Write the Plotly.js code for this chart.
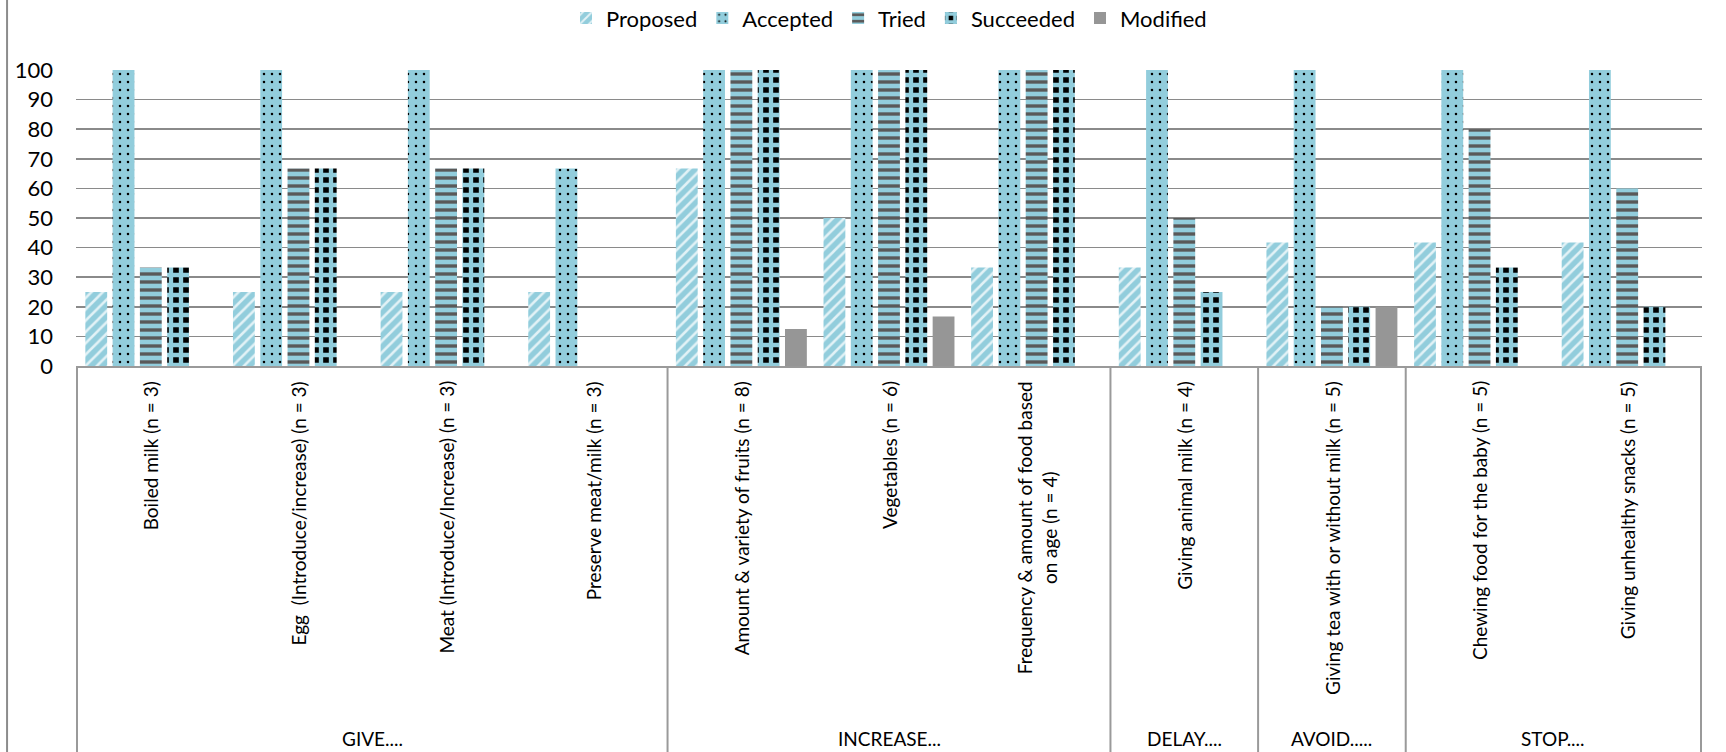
<!DOCTYPE html>
<html>
<head>
<meta charset="utf-8">
<script src="https://cdn.plot.ly/plotly-3.0.1.min.js"></script>
<style>html,body{margin:0;padding:0;background:#fff;}#chart{width:1726px;height:752px;}</style>
</head>
<body>
<div id="chart"></div>
<script>
const categories = [
  "Boiled milk (n = 3)",
  "Egg\u00a0 (Introduce/increase) (n = 3)",
  "Meat (Introduce/Increase) (n = 3)",
  "Preserve meat/milk (n = 3)",
  "Amount & variety of fruits (n = 8)",
  "Vegetables (n = 6)",
  "Frequency & amount of food based<br>on age (n = 4)",
  "Giving animal milk (n = 4)",
  "Giving tea with or without milk (n = 5)",
  "Chewing food for the baby (n = 5)",
  "Giving unhealthy snacks (n = 5)"
];
const groups = ["GIVE....", "INCREASE...", "DELAY....", "AVOID.....", "STOP...."];
const groupSizes = [4, 3, 1, 1, 2];
const seriesNames = ["Proposed", "Accepted", "Tried", "Succeeded", "Modified"];
const proposed  = [25, 25, 25, 25, 66.7, 50, 33.3, 33.3, 41.7, 41.7, 41.7];
const accepted  = [100, 100, 100, 66.7, 100, 100, 100, 100, 100, 100, 100];
const tried     = [33.3, 66.7, 66.7, 0, 100, 100, 100, 50, 20, 80, 60];
const succeeded = [33.3, 66.7, 66.7, 0, 100, 100, 100, 25, 20, 33.3, 20];
const modified  = [0, 0, 0, 0, 12.5, 16.7, 0, 0, 20, 0, 0];
const yTicks = [0, 10, 20, 30, 40, 50, 60, 70, 80, 90, 100];

const BLUE = "#92CDDC";
const FONT = "Lato, 'Open Sans', sans-serif";

const styles = [
  {color: BLUE, pattern: {shape: "/", fgcolor: "#E2F2F6", bgcolor: BLUE, size: 8, solidity: 0.32, fillmode: "replace"}},
  {color: BLUE, pattern: {shape: ".", fgcolor: "#000000", bgcolor: BLUE, size: 8, solidity: 0.08, fillmode: "replace"}},
  {color: BLUE, pattern: {shape: "-", fgcolor: "#595959", bgcolor: BLUE, size: 8, solidity: 0.42, fillmode: "replace"}},
  {color: "#000000", pattern: {shape: "+", fgcolor: BLUE, bgcolor: "#000000", size: 10, solidity: 0.68, fillmode: "replace"}},
  {color: "#969696"}
];
const seriesValues = [proposed, accepted, tried, succeeded, modified];

const traces = seriesNames.map((name, i) => ({
  type: "bar",
  name: name,
  x: categories,
  y: seriesValues[i],
  marker: Object.assign({line: {width: 0}}, styles[i]),
  hoverinfo: "x+y+name"
}));

const shapes = [];
const annotations = [];
const GRAY = "#9a9a9a";

// group dividers and group labels
let start = 0;
shapes.push({type: "line", xref: "x", yref: "paper", x0: -0.5, x1: -0.5, y0: 0, y1: -1.45, line: {color: GRAY, width: 2}});
groups.forEach((g, gi) => {
  const end = start + groupSizes[gi];
  shapes.push({type: "line", xref: "x", yref: "paper", x0: end - 0.5, x1: end - 0.5, y0: 0, y1: -1.45, line: {color: GRAY, width: 2}});
  annotations.push({
    xref: "x", yref: "paper", x: (start + end - 1) / 2, y: 0, yshift: -372,
    xanchor: "center", yanchor: "middle", showarrow: false,
    text: g, font: {family: FONT, size: 19, color: "#000"}
  });
  start = end;
});

// category labels (rotated)
categories.forEach((c, i) => {
  annotations.push({
    xref: "x", yref: "paper", x: i, y: 0, yshift: -13,
    xanchor: "center", yanchor: "top", textangle: -90, align: "center",
    showarrow: false, text: c, font: {family: FONT, size: 19, color: "#000"}
  });
});

// outer chart border (left edge)
shapes.push({type: "line", xref: "paper", yref: "paper", x0: -0.0424, x1: -0.0424, y0: -1.45, y1: 1.3, line: {color: "#8c8c8c", width: 2}});

const layout = {
  width: 1726, height: 752,
  margin: {l: 76, r: 24, t: 70, b: 386, autoexpand: false},
  paper_bgcolor: "#ffffff", plot_bgcolor: "#ffffff",
  font: {family: FONT, color: "#000"},
  barmode: "group", bargap: 0.076, bargroupgap: 0.2,
  showlegend: true,
  legend: {
    orientation: "h", x: 0.5, xanchor: "center", y: 1.175, yanchor: "middle",
    font: {family: FONT, size: 22, color: "#000"}, traceorder: "normal"
  },
  xaxis: {
    type: "category", showticklabels: false, showgrid: false, zeroline: false,
    showline: true, linecolor: GRAY, linewidth: 2, ticks: "", fixedrange: true
  },
  yaxis: {
    range: [0, 100], tickvals: yTicks, ticktext: yTicks.map(String),
    showgrid: true, gridcolor: "#8a8a8a", gridwidth: 1.5, zeroline: false, showline: false,
    ticks: "", ticklabelstandoff: 22, tickfont: {family: FONT, size: 22, color: "#000"}, fixedrange: true
  },
  shapes: shapes,
  annotations: annotations
};

Plotly.newPlot("chart", traces, layout, {displayModeBar: false, staticPlot: true});
</script>
</body>
</html>
